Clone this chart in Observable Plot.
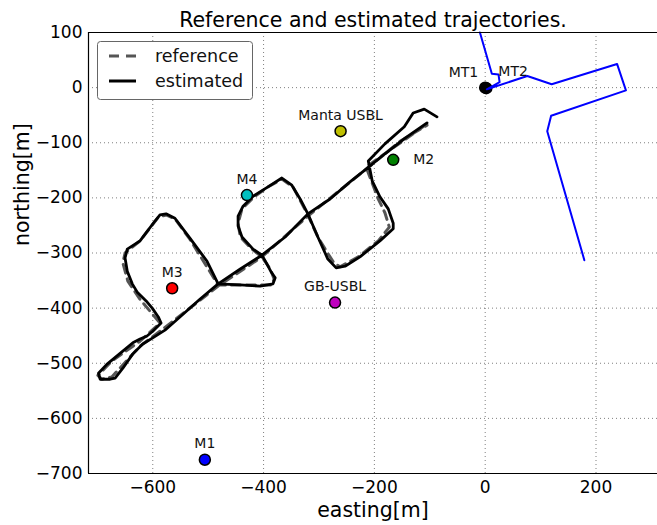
<!DOCTYPE html>
<html><head><meta charset="utf-8">
<script src="https://cdn.jsdelivr.net/npm/d3@7"></script>
<script src="https://cdn.jsdelivr.net/npm/@observablehq/plot@0.6"></script>
<style>
body{margin:0;background:#fff;font-family:"DejaVu Sans",sans-serif;}
#wrap{position:relative;width:657px;height:525px;overflow:hidden;}
#legend{position:absolute;left:97px;top:41px;}
</style></head><body><div id="wrap"></div>
<script>
// Reference (dashed) trajectory
const refEast  = [-108,-215,-204,-193,-181,-173,-193,-229,-262,-273,-287,-302,-320,-347,-367,-392,-417,-439,-446,-442,-421,-403,-388,-381,-385,-482,-533,-560,-576,-590,-623,-650,-654,-645,-623,-587,-623,-674,-699,-692,-674,-623,-587,-482,-403,-320,-215,-153,-105];
const refNorth = [-68,-144,-173,-202,-227,-253,-278,-307,-325,-318,-296,-271,-231,-180,-166,-180,-198,-220,-246,-271,-293,-307,-329,-347,-358,-358,-275,-238,-231,-235,-278,-300,-318,-351,-384,-427,-460,-496,-522,-529,-525,-469,-442,-360,-307,-233,-148,-97,-68];
// Estimated (solid) trajectory
const estEast  = [-87,-110,-130,-146,-181,-211,-204,-190,-175,-166,-166,-190,-226,-253,-269,-284,-302,-320,-334,-349,-367,-392,-419,-437,-446,-446,-439,-419,-403,-395,-386,-379,-383,-406,-442,-482,-502,-533,-560,-576,-587,-596,-623,-646,-650,-646,-637,-628,-612,-601,-590,-585,-600,-611,-623,-636,-659,-683,-698,-695,-677,-668,-654,-636,-618,-600,-578,-551,-515,-482,-442,-403,-361,-320,-280,-244,-215,-181,-144,-105];
const estNorth = [-53,-39,-46,-71,-102,-133,-169,-198,-220,-246,-256,-278,-307,-324,-327,-311,-271,-229,-202,-177,-164,-180,-197,-215,-233,-251,-271,-293,-304,-318,-335,-345,-356,-360,-358,-356,-315,-273,-237,-229,-231,-242,-278,-293,-309,-333,-356,-371,-387,-400,-416,-427,-442,-451,-456,-463,-482,-502,-518,-529,-529,-527,-509,-483,-465,-454,-440,-416,-384,-356,-329,-304,-271,-229,-202,-171,-148,-120,-91,-64];
// Blue track near MT1/MT2
const mtEast  = [-9.5,12,24,26,3,76,120,238,254,119,112,179];
const mtNorth = [100,25,24,10,-3,21,6,43,-5,-51,-79,-313];
// Markers
const markerNames  = ["MT2","MT1","Manta USBL","M2","M4","GB-USBL","M3","M1"];
const markerEast   = [2,0,-261,-166,-430,-271,-565,-506];
const markerNorth  = [-1,0,-79,-131,-195,-390,-364,-675];
const markerColors = ["#0000ff","#000000","#bfbf00","#008000","#00bfbf","#bf00bf","#ff0000","#0000ff"];
const xTicks = [-600,-400,-200,0,200];
const yTicks = [-700,-600,-500,-400,-300,-200,-100,0,100];
const titleText = "Reference and estimated trajectories.";
const xLabel = "easting[m]";
const yLabel = "northing[m]";
const legendLabels = ["reference","estimated"];

const ref = refEast.map((e,i)=>({e, n: refNorth[i]}));
const est = estEast.map((e,i)=>({e, n: estNorth[i]}));
const mt = mtEast.map((e,i)=>({e, n: mtNorth[i]}));
const markers = markerNames.map((name,i)=>({name, e: markerEast[i], n: markerNorth[i], color: markerColors[i]}));
const fmt = d => d < 0 ? "\u2212" + Math.abs(d) : String(d);
const above = markers.filter(d => !["M2","MT1","MT2"].includes(d.name));

const chart = Plot.plot({
  width: 657, height: 525,
  marginLeft: 88, marginRight: 0, marginTop: 32, marginBottom: 52,
  style: {fontFamily: "DejaVu Sans", fontSize: "17px", color: "#000", background: "#fff", overflow: "visible"},
  x: {domain: [-716, 311], label: null},
  y: {domain: [-700, 100], label: null},
  color: {type: "identity"},
  marks: [
    Plot.gridX(xTicks, {stroke: "#000", strokeOpacity: 0.5, strokeDasharray: "1,3", strokeWidth: 1}),
    Plot.gridY(yTicks, {stroke: "#000", strokeOpacity: 0.5, strokeDasharray: "1,3", strokeWidth: 1}),
    Plot.line(ref, {x: "e", y: "n", stroke: "#555", strokeWidth: 3, strokeDasharray: "9,6"}),
    Plot.line(est, {x: "e", y: "n", stroke: "#000", strokeWidth: 2.8, strokeLinejoin: "round"}),
    Plot.dot(markers, {x: "e", y: "n", r: 5.5, fill: "color", stroke: "#000", strokeWidth: 1.5}),
    Plot.line(mt, {x: "e", y: "n", stroke: "#0000ff", strokeWidth: 2}),
    Plot.text(above, {x: "e", y: "n", text: "name", dy: -16, fontSize: 14, fill: "#111"}),
    Plot.text(markers.filter(d => d.name === "M2"), {x: "e", y: "n", text: "name", dx: 20, textAnchor: "start", fontSize: 14, fill: "#111"}),
    Plot.text(markers.filter(d => d.name === "MT1"), {x: "e", y: "n", text: "name", dx: -7, dy: -15, textAnchor: "end", fontSize: 14, fill: "#111"}),
    Plot.text(markers.filter(d => d.name === "MT2"), {x: "e", y: "n", text: "name", dx: 12, dy: -17, textAnchor: "start", fontSize: 14, fill: "#111"}),
    Plot.ruleY([-700, 100], {stroke: "#000", strokeWidth: 1.2}),
    Plot.ruleX([-716], {stroke: "#000", strokeWidth: 1.2}),
    Plot.axisX(xTicks, {tickSize: 0, tickPadding: 7, tickFormat: fmt, fontSize: 17, label: null}),
    Plot.axisY(yTicks, {tickSize: 0, tickPadding: 6, tickFormat: fmt, fontSize: 17, label: null}),
    Plot.text([titleText], {text: d => d, frameAnchor: "top", lineAnchor: "middle", dy: -12, fontSize: 20.5}),
    Plot.text([xLabel], {text: d => d, frameAnchor: "bottom", lineAnchor: "middle", dy: 37, fontSize: 20.5}),
    Plot.text([yLabel], {text: d => d, frameAnchor: "left", lineAnchor: "middle", dx: -66, dy: -7, rotate: -90, fontSize: 20.5})
  ]
});
const wrap = document.getElementById("wrap");
wrap.appendChild(chart);

// Legend
const lg = d3.select(wrap).append("svg").attr("id", "legend").attr("width", 157).attr("height", 60);
lg.append("rect").attr("x", 0.5).attr("y", 0.5).attr("width", 155).attr("height", 58).attr("rx", 3)
  .attr("fill", "#fff").attr("stroke", "#666").attr("stroke-width", 1);
const styles = [{stroke: "#555", dash: "10,7"}, {stroke: "#000", dash: null}];
legendLabels.forEach((lab, i) => {
  const y = 15 + i * 25;
  const ln = lg.append("line").attr("x1", 12).attr("x2", 39).attr("y1", y).attr("y2", y)
    .attr("stroke", styles[i].stroke).attr("stroke-width", 3);
  if (styles[i].dash) ln.attr("stroke-dasharray", styles[i].dash);
  lg.append("text").attr("x", 58).attr("y", y).attr("dy", "0.35em")
    .attr("font-family", "DejaVu Sans").attr("font-size", 17.5).attr("fill", "#111").text(lab);
});
</script></body></html>
